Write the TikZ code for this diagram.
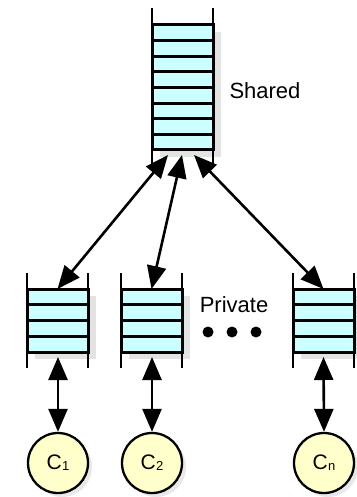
\documentclass[tikz,border=0pt]{standalone}
\usepackage{fontspec}
\setmainfont{Liberation Sans}
\usetikzlibrary{arrows.meta,calc,shadows}
\definecolor{cellcyan}{HTML}{CCFFFF}
\definecolor{coinyellow}{HTML}{FFFFCC}
\definecolor{shadowgray}{HTML}{E3E3E3}

\tikzset{
  stackbox/.style={draw, line width=3pt, fill=cellcyan, minimum width=61pt,
    inner sep=0pt, outer sep=0pt,
    drop shadow={fill=shadowgray, opacity=1, shadow xshift=8pt, shadow yshift=-7pt}},
  rail/.style={line width=1.1pt},
  divider/.style={line width=2.8pt},
  coin/.style={circle, draw, line width=2.3pt, fill=coinyellow, minimum size=60pt,
    inner sep=0pt,
    drop shadow={fill=shadowgray, opacity=0.8, shadow xshift=4pt, shadow yshift=-4pt}},
  link/.style={{Triangle[length=23pt,width=19pt]}-{Triangle[length=23pt,width=19pt]},
    line width=2.6pt},
  dot/.style={circle, fill=black, minimum size=11pt, inner sep=0pt},
  caption/.style={font=\fontsize{22}{22}\selectfont, inner sep=0pt},
}

% C with a subscript, as set in the client circles
\newcommand{\clientlabel}[1]{{\fontsize{21}{21}\selectfont C}\kern0.3pt\raisebox{-1pt}{\fontsize{13}{13}\selectfont #1}}

\begin{document}
\begin{tikzpicture}[x=1pt,y=-1pt]
  \useasboundingbox (0,0) rectangle (356,497);

  % shared queue: eight cells
  \node[stackbox, minimum height=125pt] (S) at (182.5,87.5) {};
  \foreach \i in {1,...,7}
    \draw[divider] ($(S.north west)+(0,\i*15.625)$) -- ($(S.north east)+(0,\i*15.625)$);
  \draw[rail] ($(S.north west)+(0,-17)$) -- ($(S.south west)+(0,16)$);
  \draw[rail] ($(S.north east)+(0,-17)$) -- ($(S.south east)+(0,16)$);

  % private queues: four cells each
  \foreach \name/\x in {P1/57.5, P2/151.5, Pn/323.5} {
    \node[stackbox, minimum height=63pt] (\name) at (\x,320.5) {};
    \foreach \i in {1,...,3}
      \draw[divider] ($(\name.north west)+(0,\i*15.75)$) -- ($(\name.north east)+(0,\i*15.75)$);
    \draw[rail] ($(\name.north west)+(0,-16)$) -- ($(\name.south west)+(0,16)$);
    \draw[rail] ($(\name.north east)+(0,-16)$) -- ($(\name.south east)+(0,16)$);
  }

  % clients
  \node[coin] (C1) at (58,463) {\clientlabel{1}};
  \node[coin] (C2) at (152,463) {\clientlabel{2}};
  \node[coin] (Cn) at (324,463) {\clientlabel{n}};

  % labels and ellipsis
  \node[caption] (shared) at (265,91) {Shared};
  \node[caption] (private) at (234,305) {Private};
  \node[dot] (d1) at (208,332) {};
  \node[dot] (d2) at (232,332) {};
  \node[dot] (d3) at (256,332) {};

  % arrow ends just below the shared queue
  \coordinate (s1) at ($(S.south)+(-14.5,5)$);
  \coordinate (s2) at ($(S.south)+(-0.5,5)$);
  \coordinate (sn) at ($(S.south)+(11.5,5)$);
  \draw[link] (s1) -- (P1.north);
  \draw[link] (s2) -- (P2.north);
  \draw[link] (sn) -- (Pn.north);

  % arrow ends just below each private queue
  \coordinate (b1) at ($(P1.south)+(0.5,5)$);
  \coordinate (b2) at ($(P2.south)+(0.5,5)$);
  \coordinate (bn) at ($(Pn.south)+(0,5)$);
  \draw[link] (b1) -- (C1.north);
  \draw[link] (b2) -- (C2.north);
  \draw[link] (bn) -- (Cn.north);
\end{tikzpicture}
\end{document}
